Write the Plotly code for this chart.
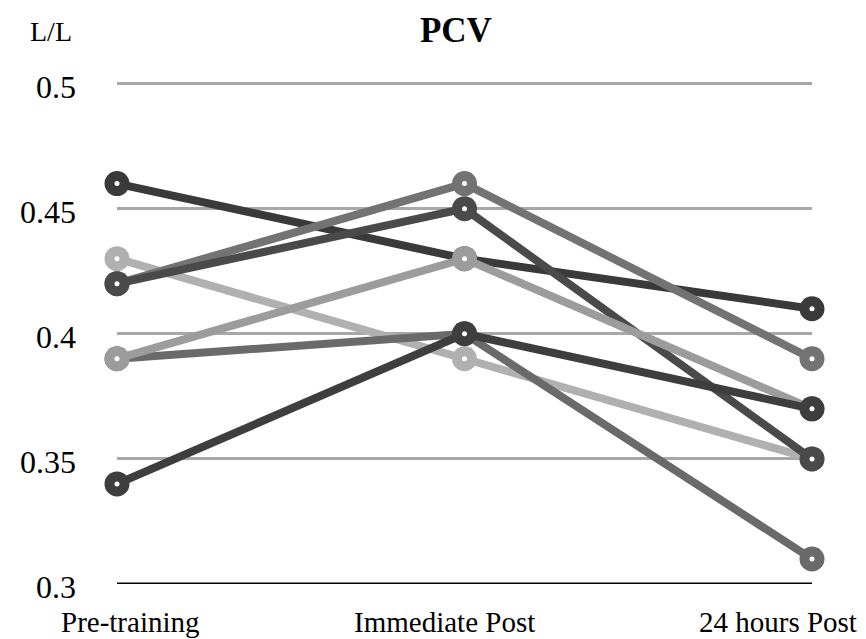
import plotly.graph_objects as go

categories = ["Pre-training", "Immediate Post", "24 hours Post"]
s1 = [0.46, 0.43, 0.41]
s2 = [0.43, 0.39, 0.35]
s3 = [0.42, 0.46, 0.39]
s4 = [0.42, 0.45, 0.35]
s6 = [0.39, 0.40, 0.31]
s5 = [0.39, 0.43, 0.37]
s7 = [0.34, 0.40, 0.37]
series = [s1, s2, s3, s4, s6, s5, s7]
colors = ["#3a3a3a", "#b0b0b0", "#737373", "#4a4a4a", "#6a6a6a", "#9c9c9c", "#3e3e3e"]
y_ticks = [0.3, 0.35, 0.4, 0.45, 0.5]

xs = list(range(len(categories)))
fig = go.Figure()
for vals, c in zip(series, colors):
    fig.add_trace(go.Scatter(x=xs, y=vals, mode="lines+markers",
                             line=dict(color=c, width=8),
                             marker=dict(size=25, color=c),
                             cliponaxis=False, showlegend=False))
    fig.add_trace(go.Scatter(x=xs, y=vals, mode="markers",
                             marker=dict(size=5, color="white"),
                             cliponaxis=False, showlegend=False))

serif = "Liberation Serif"
fig.update_layout(
    width=858, height=631,
    margin=dict(l=102, r=54, t=74, b=55),
    paper_bgcolor="white", plot_bgcolor="white",
    font=dict(family=serif, color="black"),
    title=dict(text="<b>PCV</b>", x=0.522, xanchor="center", y=0.965, yanchor="middle",
               font=dict(family=serif, size=35, color="black")),
    xaxis=dict(range=[0, 2], showticklabels=False, showgrid=False, zeroline=False,
               showline=False),
    yaxis=dict(range=[0.3, 0.5006], tickvals=y_ticks, ticktext=[str(v) for v in y_ticks],
               tickfont=dict(family=serif, size=32, color="black"),
               showgrid=True, gridcolor="#a8a8a8", gridwidth=2.5, zeroline=False,
               showline=False, ticks="", ticklabelstandoff=40, ticklabelshift=3),
)
# baseline axis line
fig.add_shape(type="line", xref="paper", yref="y", x0=0, x1=1, y0=0.3, y1=0.3,
              line=dict(color="black", width=3), layer="above")
shifts = [13, -20, -34]
for i, (cat, sh) in enumerate(zip(categories, shifts)):
    fig.add_annotation(x=i, y=0, xref="x", yref="paper", yanchor="middle", xanchor="center",
                       yshift=-38, xshift=sh, text=cat, showarrow=False,
                       font=dict(family=serif, size=29, color="black"))
fig.add_annotation(xref="paper", yref="paper", x=-0.095, y=1.1,
                   xanchor="center", yanchor="middle", text="L/L", showarrow=False,
                   font=dict(family=serif, size=28, color="black"))
fig.write_html("out.html")
